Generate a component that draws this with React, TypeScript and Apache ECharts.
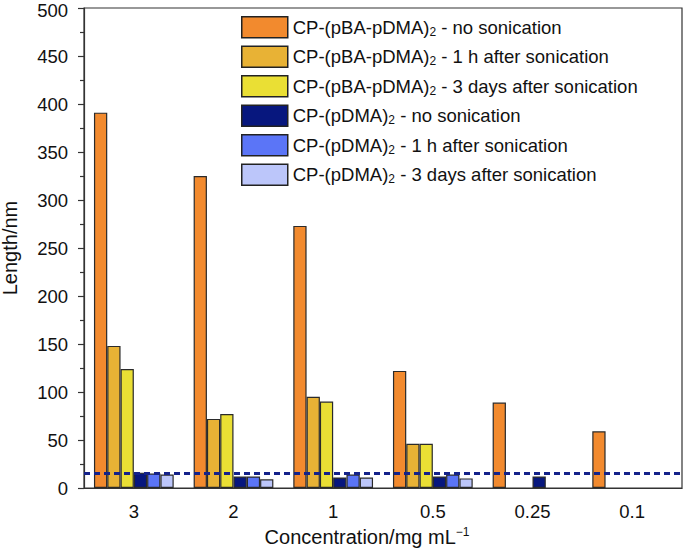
import React, { useEffect, useRef } from "react";
import * as echarts from "echarts";

const categories = ["3", "2", "1", "0.5", "0.25", "0.1"];
const seriesNames = [
  "CP-(pBA-pDMA)2 - no sonication",
  "CP-(pBA-pDMA)2 - 1 h after sonication",
  "CP-(pBA-pDMA)2 - 3 days after sonication",
  "CP-(pDMA)2 - no sonication",
  "CP-(pDMA)2 - 1 h after sonication",
  "CP-(pDMA)2 - 3 days after sonication",
];
const legendPrefix = ["CP-(pBA-pDMA)", "CP-(pBA-pDMA)", "CP-(pBA-pDMA)", "CP-(pDMA)", "CP-(pDMA)", "CP-(pDMA)"];
const legendSuffix = [" - no sonication", " - 1 h after sonication", " - 3 days after sonication", " - no sonication", " - 1 h after sonication", " - 3 days after sonication"];
const pbaNoSonication = [391, 325, 273, 122, 89, 59];
const pba1h = [148, 72, 95, 46, null, null];
const pba3d = [124, 77, 90, 46, null, null];
const pdmaNoSonication = [16, 12, 11, 12, 12, null];
const pdma1h = [15, 12, 14, 14, null, null];
const pdma3d = [14, 9, 11, 10, null, null];
const thresholdValue = 15;
const yMax = 500;
const colors = ["#F28A2E", "#E8B235", "#EADF34", "#07177E", "#5B75F7", "#BCC6FA"];

const FONT = "'Liberation Sans', Arial, Helvetica, sans-serif";

export default function App() {
  const ref = useRef<HTMLDivElement>(null);
  useEffect(() => {
    const chart = echarts.init(ref.current!, null, { renderer: "svg" });
    const values = [pbaNoSonication, pba1h, pba3d, pdmaNoSonication, pdma1h, pdma3d];
    const series: any[] = values.map((v, i) => ({
      name: seriesNames[i],
      type: "bar",
      data: v,
      barGap: "0%",
      barCategoryGap: "20%",
      itemStyle: { color: colors[i], borderColor: "#2a2a2a", borderWidth: 1.2 },
      ...(i === 0
        ? {
            markLine: {
              silent: true,
              symbol: "none",
              label: { show: false },
              lineStyle: { color: "#14228A", width: 2.8, type: [6, 4] },
              data: [{ yAxis: thresholdValue }],
            },
          }
        : {}),
    }));
    chart.setOption({
      animation: false,
      textStyle: { fontFamily: FONT },
      grid: {
        left: 84,
        right: 3,
        top: 8,
        bottom: 69,
        show: true,
        borderColor: "#333",
        borderWidth: 1.2,
        containLabel: false,
        outerBoundsMode: "none",
      },
      legend: {
        orient: "vertical",
        left: 241,
        top: 16,
        padding: 0,
        itemWidth: 46,
        itemHeight: 21,
        itemGap: 7,
        icon: "rect",
        itemStyle: { borderColor: "#222", borderWidth: 1.5 },
        data: seriesNames,
        formatter: (name: string) => {
          const i = seriesNames.indexOf(name);
          return `{a|${legendPrefix[i]}}{s|2}{a|${legendSuffix[i]}}`;
        },
        textStyle: {
          fontFamily: FONT,
          rich: {
            a: { fontSize: 18.5, lineHeight: 21, color: "#111", fontFamily: FONT },
            s: { fontSize: 12, lineHeight: 12, padding: [9, 0, 0, 0], color: "#111", fontFamily: FONT },
          },
        },
      },
      xAxis: [
        {
          type: "category",
          data: categories,
          axisLine: { lineStyle: { color: "#333", width: 1.2 } },
          axisTick: { alignWithLabel: true, length: 8, lineStyle: { color: "#333", width: 1.2 } },
          axisLabel: { fontSize: 18.5, color: "#111", margin: 14, fontFamily: FONT },
          name: "{a|Concentration/mg mL}{s|−1}",
          nameLocation: "middle",
          nameGap: 21,
          nameTextStyle: {
            padding: [0, 32, 0, 0],
            rich: {
              a: { fontSize: 20, color: "#111", fontFamily: FONT },
              s: { fontSize: 12, color: "#111", padding: [0, 0, 10, 0], fontFamily: FONT },
            },
          },
        },
        {
          type: "category",
          data: categories,
          position: "bottom",
          axisLine: { show: false },
          axisTick: { length: 4, lineStyle: { color: "#333", width: 1.2 } },
          axisLabel: { show: false },
        },
      ],
      yAxis: {
        type: "value",
        min: 0,
        max: yMax,
        interval: 50,
        splitLine: { show: false },
        axisLine: { show: true, lineStyle: { color: "#333", width: 1.2 } },
        axisTick: { show: true, length: 6, lineStyle: { color: "#333", width: 1.2 } },
        minorTick: { show: true, splitNumber: 2, length: 4, lineStyle: { color: "#333", width: 1.2 } },
        axisLabel: {
          fontSize: 18.5,
          lineHeight: 15,
          color: "#111",
          margin: 16,
          fontFamily: FONT,
          formatter: (v: number) => (v === yMax ? `{t|${v}}` : `${v}`),
          rich: {
            t: { fontSize: 18.5, lineHeight: 15, padding: [5, 0, 0, 0], color: "#111", fontFamily: FONT },
          },
        },
        name: "Length/nm",
        nameLocation: "middle",
        nameGap: 64,
        nameTextStyle: { fontSize: 20, color: "#111", fontFamily: FONT },
      },
      series,
    });
    return () => chart.dispose();
  }, []);
  return <div ref={ref} style={{ width: 685, height: 557, position: "absolute", left: 0, top: 0 }} />;
}
